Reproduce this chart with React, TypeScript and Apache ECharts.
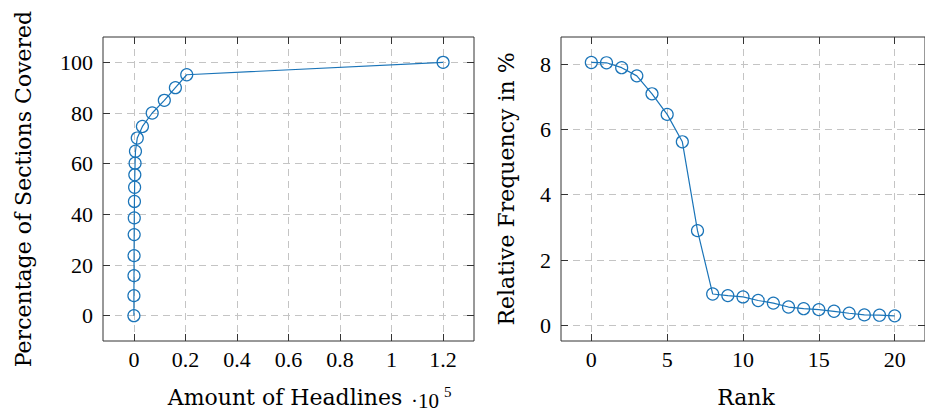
import React, { useEffect, useRef } from "react";
import * as echarts from "echarts";

// Left chart: amount of headlines (x 10^5) vs percentage of sections covered
const headlineAmounts = [0, 0, 0.0003, 0.0006, 0.001, 0.0014, 0.002, 0.0027, 0.0035, 0.0045, 0.006, 0.013, 0.033, 0.071, 0.118, 0.161, 0.205, 1.2];
const sectionsCovered = [0, 7.9, 15.8, 23.7, 32.0, 38.6, 45.1, 50.7, 55.6, 60.2, 64.9, 70.1, 74.7, 80.0, 85.0, 90.0, 95.1, 100];
const leftXTicks = [0, 0.2, 0.4, 0.6, 0.8, 1, 1.2];
const leftYTicks = [0, 20, 40, 60, 80, 100];

// Right chart: rank vs relative frequency in %
const ranks = [0, 1, 2, 3, 4, 5, 6, 7, 8, 9, 10, 11, 12, 13, 14, 15, 16, 17, 18, 19, 20];
const relativeFrequency = [8.05, 8.04, 7.89, 7.64, 7.09, 6.46, 5.62, 2.9, 0.96, 0.91, 0.87, 0.76, 0.68, 0.56, 0.51, 0.48, 0.43, 0.37, 0.32, 0.31, 0.29];
const rightXTicks = [0, 5, 10, 15, 20];
const rightYTicks = [0, 2, 4, 6, 8];

const BLUE = "#1a74b8";
const GRIDC = "#c4c4c4";
const TICKFONT = "Liberation Serif, Times New Roman, Times, serif";
const NAMEFONT = "DejaVu Serif, serif";

function mainAxis(gridIndex: number, position: string, min: number, max: number, ticks: number[], isX: boolean) {
  return {
    type: "value",
    gridIndex,
    position,
    min,
    max,
    axisLine: { show: false, onZero: false },
    axisTick: { show: true, inside: true, length: 7, customValues: ticks, lineStyle: { color: "#333", width: 1 } },
    axisLabel: {
      show: true,
      customValues: ticks,
      color: "#000",
      fontFamily: TICKFONT,
      fontSize: 22,
      margin: isX ? 7 : 10,
    },
    splitLine: { show: true, lineStyle: { color: GRIDC, width: 1, type: [7, 5] } },
  };
}

function sideAxis(gridIndex: number, position: string, min: number, max: number, ticks: number[]) {
  return {
    type: "value",
    gridIndex,
    position,
    min,
    max,
    axisLine: { show: false, onZero: false },
    axisTick: { show: true, inside: true, length: 7, customValues: ticks, lineStyle: { color: "#333", width: 1 } },
    axisLabel: { show: false, customValues: ticks },
    splitLine: { show: false },
  };
}

export default function App() {
  const ref = useRef<HTMLDivElement>(null);
  useEffect(() => {
    if (!ref.current) return;
    const chart = echarts.init(ref.current, null, { renderer: "svg" });
    const leftData = headlineAmounts.map((x, i) => [x, sectionsCovered[i]]);
    const rightData = ranks.map((r, i) => [r, relativeFrequency[i]]);
    const seriesStyle = {
      type: "line",
      symbol: "circle",
      symbolSize: 12,
      lineStyle: { color: BLUE, width: 1.2 },
      itemStyle: { color: "transparent", borderColor: BLUE, borderWidth: 1.2 },
      emphasis: { disabled: true },
    };
    chart.setOption({
      animation: false,
      grid: [
        { left: 103, top: 37, width: 371, height: 304, show: true, borderColor: "#333", borderWidth: 1, backgroundColor: "transparent" },
        { left: 561, top: 37, width: 371, height: 304, show: true, borderColor: "#333", borderWidth: 1, backgroundColor: "transparent" },
      ],
      xAxis: [
        mainAxis(0, "bottom", -0.12, 1.32, leftXTicks, true),
        sideAxis(0, "top", -0.12, 1.32, leftXTicks),
        mainAxis(1, "bottom", -2, 22, rightXTicks, true),
        sideAxis(1, "top", -2, 22, rightXTicks),
      ],
      yAxis: [
        mainAxis(0, "left", -10, 110, leftYTicks, false),
        sideAxis(0, "right", -10, 110, leftYTicks),
        mainAxis(1, "left", -0.48, 8.83, rightYTicks, false),
        sideAxis(1, "right", -0.48, 8.83, rightYTicks),
      ],
      series: [
        { ...seriesStyle, xAxisIndex: 0, yAxisIndex: 0, data: leftData },
        { ...seriesStyle, xAxisIndex: 2, yAxisIndex: 2, data: rightData },
      ],
      graphic: [
        {
          type: "text",
          x: 23,
          y: 189,
          rotation: Math.PI / 2,
          style: { text: "Percentage of Sections Covered", fontFamily: NAMEFONT, fontSize: 22, fill: "#000", align: "center", verticalAlign: "middle" },
        },
        {
          type: "text",
          x: 506,
          y: 189,
          rotation: Math.PI / 2,
          style: { text: "Relative Frequency in %", fontFamily: NAMEFONT, fontSize: 22, fill: "#000", align: "center", verticalAlign: "middle" },
        },
        {
          type: "text",
          x: 285,
          y: 397,
          style: { text: "Amount of Headlines", fontFamily: NAMEFONT, fontSize: 22, fill: "#000", align: "center", verticalAlign: "middle" },
        },
        {
          type: "text",
          x: 746,
          y: 397,
          style: { text: "Rank", fontFamily: NAMEFONT, fontSize: 22, fill: "#000", align: "center", verticalAlign: "middle" },
        },
        {
          type: "text",
          x: 411,
          y: 401,
          style: { text: "·10", fontFamily: TICKFONT, fontSize: 21, fill: "#000", align: "left", verticalAlign: "middle" },
        },
        {
          type: "text",
          x: 444,
          y: 392,
          style: { text: "5", fontFamily: TICKFONT, fontSize: 15, fill: "#000", align: "left", verticalAlign: "middle" },
        },
      ],
    });
    return () => chart.dispose();
  }, []);
  return <div ref={ref} style={{ position: "fixed", left: 0, top: 0, width: 925, height: 414, background: "#fff" }} />;
}
